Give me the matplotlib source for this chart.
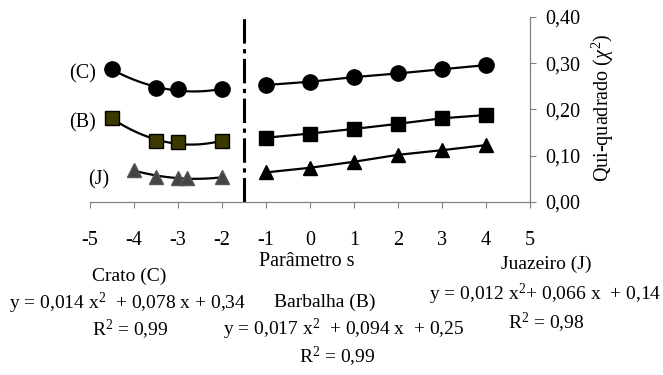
import numpy as np
import matplotlib
matplotlib.use("Agg")
import matplotlib.pyplot as plt

plt.rcParams['font.family'] = ['Liberation Serif', 'DejaVu Serif']
plt.rcParams['mathtext.fontset'] = 'custom'
plt.rcParams['mathtext.rm'] = 'Liberation Serif'
plt.rcParams['mathtext.it'] = 'Liberation Serif:italic'

# left side (s < -1.5)
x_left = [-4.5, -3.5, -3.0, -2.0]
crato_left = [0.287, 0.246, 0.244, 0.244]
barbalha_left = [0.181, 0.132, 0.129, 0.132]
x_left_j = [-4.0, -3.5, -3.0, -2.8, -2.0]
juazeiro_left = [0.069, 0.055, 0.052, 0.052, 0.053]

# right side (s >= -1)
x_right = [-1, 0, 1, 2, 3, 4]
crato_right = [0.253, 0.260, 0.270, 0.278, 0.287, 0.296]
barbalha_right = [0.139, 0.148, 0.158, 0.169, 0.181, 0.188]
juazeiro_right = [0.064, 0.074, 0.087, 0.102, 0.112, 0.123]

x_ticks = [-5, -4, -3, -2, -1, 0, 1, 2, 3, 4, 5]
x_ticklabels = ["-5", "-4", "-3", "-2", "-1", "0", "1", "2", "3", "4", "5"]
y_ticks = [0.0, 0.1, 0.2, 0.3, 0.4]
y_ticklabels = ["0,00", "0,10", "0,20", "0,30", "0,40"]
split_s = -1.5

W, H = 663, 375
fig = plt.figure(figsize=(W / 100, H / 100), dpi=100)
ax = fig.add_axes([90 / W, 1 - 202 / H, 440 / W, 185 / H])


def trend(ax, x, y):
    # quadratic trend line as in the original chart
    coef = np.polyfit(x, y, 2)
    xs = np.linspace(min(x), max(x), 100)
    ax.plot(xs, np.polyval(coef, xs), color="black", lw=1.6, zorder=2)


# left part: trend curves + markers
trend(ax, x_left, crato_left)
trend(ax, x_left, barbalha_left)
trend(ax, x_left_j, juazeiro_left)
ax.plot(x_left, crato_left, "o", ms=11, color="black", zorder=3)
ax.plot(x_left, barbalha_left, "s", ms=9.5, mfc="#3b3800", mec="black", mew=1, zorder=3)
ax.plot(x_left_j, juazeiro_left, "^", ms=10.5, mfc="#444444", mec="#555555", mew=1, zorder=3)

# right part: straight lines
ax.plot(x_right, crato_right, "-o", ms=11, color="black", lw=1.6, zorder=3)
ax.plot(x_right, barbalha_right, "-s", ms=9.5, color="black", lw=1.6, zorder=3)
ax.plot(x_right, juazeiro_right, "-^", ms=10.5, color="black", lw=1.6, zorder=3)

# divider
ax.axvline(split_s, color="black", lw=2.2, dashes=[8, 1.8, 1.4, 1.8], zorder=1)

# series labels
ax.text(-5.18, 0.277, "(C)", fontsize=14.5, ha="center", va="center")
ax.text(-5.18, 0.171, "(B)", fontsize=14.5, ha="center", va="center")
ax.text(-4.8, 0.048, "(J)", fontsize=14.5, ha="center", va="center")

ax.set_xlim(-5, 5)
ax.set_ylim(0, 0.4)
ax.set_xticks(x_ticks)
ax.set_xticklabels(x_ticklabels)
ax.set_yticks(y_ticks)
ax.set_yticklabels(y_ticklabels)

ax.spines["top"].set_visible(False)
ax.spines["left"].set_visible(False)
for s in ["bottom", "right"]:
    ax.spines[s].set_color("#808080")
    ax.spines[s].set_linewidth(0.9)
ax.yaxis.tick_right()
ax.tick_params(axis="x", direction="out", length=4, color="#808080", labelsize=14.5, pad=17)
ax.tick_params(axis="y", direction="out", length=4, color="#808080", labelsize=14.5, pad=7)

fig.text(603 / W, 1 - 108 / H, r"Qui-quadrado ($\chi^2$)", fontsize=14.5,
         rotation=90, ha="center", va="center")
fig.text(307 / W, 1 - 261 / H, "Parâmetro s", fontsize=14.5, ha="center", va="center")

# fitted equations
notes = [
    (129, 276, "Crato (C)", "center"),
    (128, 303, "y = 0,014 x$^2$  + 0,078 x + 0,34", "center"),
    (130, 330, "R$^2$ = 0,99", "center"),
    (325, 302, "Barbalha (B)", "center"),
    (344, 329, "y = 0,017 x$^2$  + 0,094 x  + 0,25", "center"),
    (337, 357, "R$^2$ = 0,99", "center"),
    (546, 264, "Juazeiro (J)", "center"),
    (661, 294, "y = 0,012 x$^2$+ 0,066 x  + 0,14", "right"),
    (546, 323, "R$^2$ = 0,98", "center"),
]
for px, py, txt, ha in notes:
    fig.text(px / W, 1 - py / H, txt, fontsize=14, ha=ha, va="center")

fig.savefig("out.png", dpi=100)
